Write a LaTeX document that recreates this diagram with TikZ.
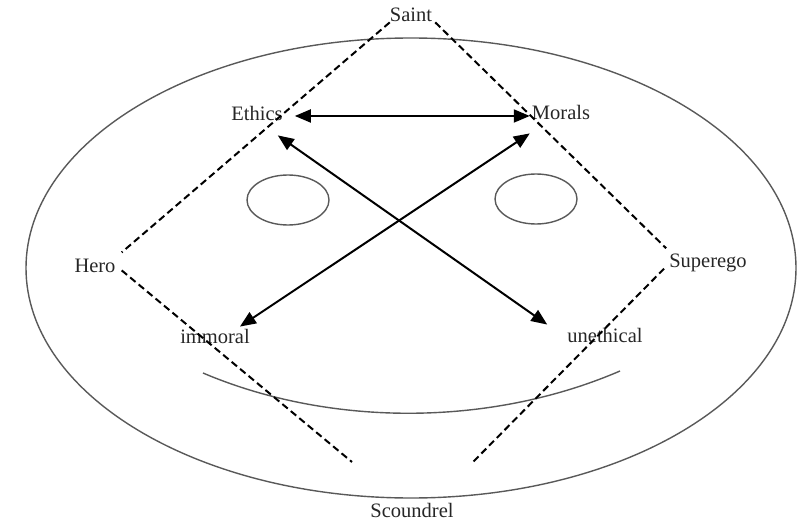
\documentclass[tikz,border=0pt]{standalone}
\usepackage{fontspec}
\setmainfont{Liberation Serif}
\usetikzlibrary{arrows.meta}
\begin{document}
\begin{tikzpicture}[x=1pt, y=-1pt,
    lbl/.style={inner sep=0pt, anchor=base, text=black!85, font=\fontsize{20.5}{24}\selectfont},
    face/.style={draw=black!65, line width=1.4pt},
    axis/.style={line width=2pt, dash pattern=on 7pt off 4pt},
    link/.style={{Triangle[length=16pt,width=13pt]}-{Triangle[length=16pt,width=13pt]}, line width=2pt}]
    \useasboundingbox (0,0) rectangle (799,521);

    % Face outline, eyes and mouth
    \draw[face] (411,268) ellipse (385 and 230);
    \draw[face] (288,200) ellipse (41 and 25);
    \draw[face] (536,199) ellipse (41 and 25);
    \draw[face] (203,373) .. controls (330,427) and (490,427) .. (620,371);

    % Labels
    \node[lbl] (saint) at (411,22) {Saint};
    \node[lbl] (hero) at (95,272) {Hero};
    \node[lbl] (superego) at (708,267) {Superego};
    \node[lbl] (scoundrel) at (412,517) {Scoundrel};
    \node[lbl] (ethics) at (257,121) {Ethics};
    \node[lbl] (morals) at (561,120) {Morals};
    \node[lbl] (immoral) at (215,343) {immoral};
    \node[lbl] (unethical) at (605,342) {unethical};

    % Dashed diamond
    \coordinate (heroEnd) at (352,462);
    \coordinate (egoEnd) at (472,463);
    \draw[axis] (saint.south west) -- ([shift={(6,-6)}]hero.north east);
    \draw[axis] ([shift={(6,-2)}]hero.south east) -- (heroEnd);
    \draw[axis] ([shift={(3,0)}]saint.south east) -- ([shift={(-3,-5)}]superego.north west);
    \draw[axis] ([shift={(-5,-3)}]superego.south west) -- (egoEnd);

    % Arrows
    \draw[link] ([shift={(12,2)}]ethics.east) -- ([shift={(-2,3)}]morals.west);
    \draw[link] ([shift={(-5,14)}]ethics.south east) -- ([shift={(-20,-3)}]unethical.north west);
    \draw[link] ([shift={(-10,-2)}]immoral.north east) -- ([shift={(-2,13)}]morals.south west);
\end{tikzpicture}
\end{document}
